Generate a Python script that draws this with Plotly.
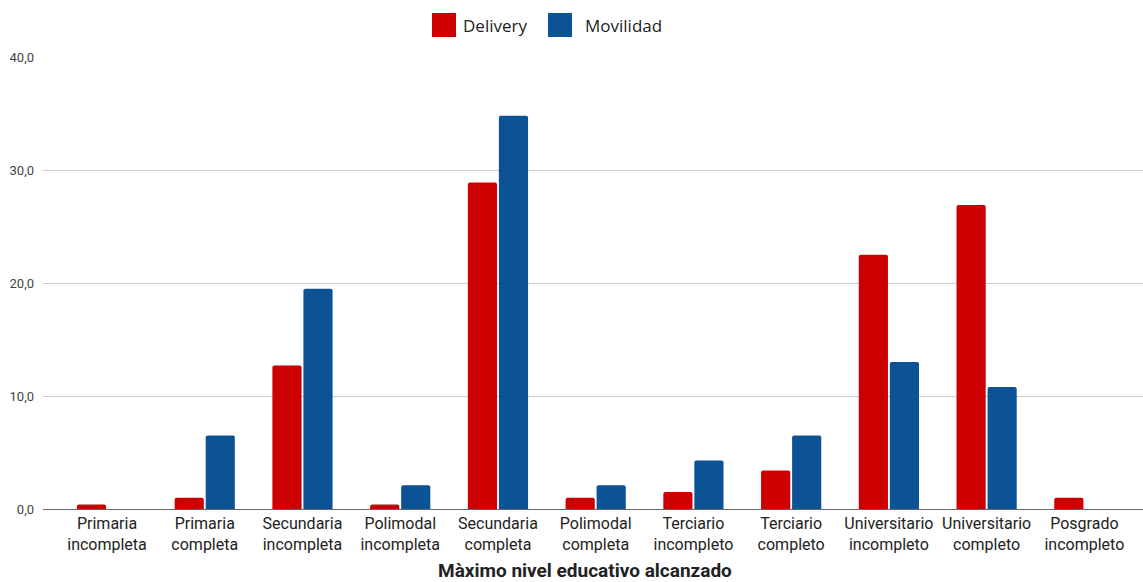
import plotly.graph_objects as go

# Education levels (two-line category labels)
categorias = [
    "Primaria<br>incompleta", "Primaria<br>completa", "Secundaria<br>incompleta",
    "Polimodal<br>incompleta", "Secundaria<br>completa", "Polimodal<br>completa",
    "Terciario<br>incompleto", "Terciario<br>completo", "Universitario<br>incompleto",
    "Universitario<br>completo", "Posgrado<br>incompleto",
]

delivery = [0.4, 1.0, 12.7, 0.4, 28.9, 1.0, 1.5, 3.4, 22.5, 26.9, 1.0]
movilidad = [0.0, 6.5, 19.5, 2.1, 34.8, 2.1, 4.3, 6.5, 13.0, 10.8, 0.0]

y_ticks = [0, 10, 20, 30, 40]

ROJO = "#cc0000"
AZUL = "#0b5394"

fig = go.Figure()
fig.add_trace(go.Bar(name="Delivery", x=categorias, y=delivery,
                     marker=dict(color=ROJO, cornerradius=2, line=dict(width=0))))
fig.add_trace(go.Bar(name="Movilidad", x=categorias, y=movilidad,
                     marker=dict(color=AZUL, cornerradius=2, line=dict(width=0))))

fig.update_layout(
    width=1143, height=582,
    margin=dict(l=43, r=0, t=57, b=73),
    paper_bgcolor="white", plot_bgcolor="white",
    barmode="group", bargap=0.365, bargroupgap=0.06,
    showlegend=False,
    separators=",.",
    font=dict(family="Roboto", color="#222222"),
)

fig.update_xaxes(
    range=[-0.655, 10.6],
    tickfont=dict(family="Roboto", size=16, color="#222222"),
    showgrid=False, ticks="", showline=False,
    ticklabelstandoff=3,
)
fig.update_yaxes(
    range=[0, 40], tickvals=y_ticks, tickformat=".1f",
    tickfont=dict(family="Roboto", size=13, color="#444444"),
    showgrid=True, gridcolor="#cccccc", gridwidth=1,
    zeroline=True, zerolinecolor="#666666", zerolinewidth=1,
    ticklabelstandoff=8,
)

# Legend drawn as swatches + labels across the top
legend_items = [("Delivery", ROJO, 432, 461), ("Movilidad", AZUL, 548, 583)]
for nombre, color, px, tx in legend_items:
    fig.add_shape(type="rect", xref="paper", yref="paper",
                  x0=(px - 43) / 1100, x1=(px + 24 - 43) / 1100,
                  y0=1 + (57 - 37) / 452, y1=1 + (57 - 13) / 452,
                  fillcolor=color, line=dict(width=0))
    fig.add_annotation(text=nombre, xref="paper", yref="paper",
                       x=(tx - 43) / 1100, y=1 + (57 - 26) / 452,
                       xanchor="left", yanchor="middle", showarrow=False,
                       font=dict(family="Open Sans", size=17, color="#222222"))

# Axis title
fig.add_annotation(text="<b>Màximo nivel educativo alcanzado</b>",
                   xref="paper", yref="paper",
                   x=(585 - 43) / 1100, y=-(570 - 509) / 452,
                   xanchor="center", yanchor="middle", showarrow=False,
                   font=dict(family="Roboto", size=19, color="#222222"))

fig.write_html("out.html")
